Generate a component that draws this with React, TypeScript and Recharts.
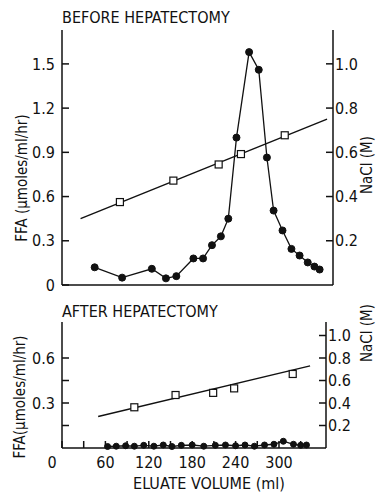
import React from "react";
import { ComposedChart, Line, Scatter, XAxis, YAxis } from "recharts";

// before hepatectomy: FFA (filled circles, left axis)
const beforeVolume = [44, 81, 121, 140, 154, 177, 190, 202, 214, 224, 235, 252, 265, 276, 285, 297, 309, 320, 331, 340, 347];
const beforeFfa = [0.12, 0.05, 0.11, 0.045, 0.06, 0.18, 0.18, 0.27, 0.33, 0.45, 1.0, 1.58, 1.46, 0.865, 0.505, 0.37, 0.245, 0.2, 0.153, 0.125, 0.105];
// NaCl (open squares, right axis) and its fitted line
const beforeNaclVolume = [78, 150, 211, 241, 300];
const beforeNacl = [0.375, 0.472, 0.545, 0.592, 0.677];
const beforeFitVolume = [25, 357];
const beforeFit = [0.3, 0.75];

// after hepatectomy
const afterVolume = [63, 75, 88, 100, 113, 127, 140, 152, 165, 180, 196, 212, 226, 240, 253, 266, 280, 293, 306, 320, 330, 338];
const afterFfa = [0.01, 0.012, 0.015, 0.012, 0.018, 0.012, 0.02, 0.01, 0.018, 0.02, 0.012, 0.018, 0.02, 0.015, 0.02, 0.012, 0.02, 0.025, 0.045, 0.025, 0.018, 0.02];
const afterNaclVolume = [100, 157, 209, 238, 319];
const afterNacl = [0.362, 0.471, 0.49, 0.53, 0.658];
const afterFitVolume = [50, 343];
const afterFit = [0.28, 0.73];

const volumeTicks = [30, 60, 90, 120, 150, 180, 210, 240, 270, 300, 330];
const beforeFfaTicks = [0, 0.3, 0.6, 0.9, 1.2, 1.5];
const afterFfaTicks = [0.15, 0.3, 0.45, 0.6];
const naclTicks = [0.2, 0.4, 0.6, 0.8, 1.0];

const FONT = "'Liberation Sans Narrow', 'DejaVu Sans Condensed', 'Roboto Condensed', sans-serif";
const INK = "#111";

const zip = (xs: number[], ys: number[]) => xs.map((x, i) => ({ x, y: ys[i] }));

const tickStyle = { fill: INK, fontSize: 16, fontFamily: FONT };
const axisLine = { stroke: INK, strokeWidth: 1.5 };

const Square = (props: any) => {
  const { cx, cy } = props;
  return <rect x={cx - 3.5} y={cy - 3.5} width={7} height={7} fill="#fff" stroke={INK} strokeWidth={1.2} />;
};

const VolumeTick = (props: any) => {
  const { x, y, payload } = props;
  if (payload.value % 60 !== 0) return null;
  return (
    <text x={payload.value === 0 ? x - 10 : x} y={y} dy="0.71em" textAnchor="middle" {...tickStyle}>
      {payload.value}
    </text>
  );
};

function Panel({
  width,
  height,
  top,
  xHeight,
  rightWidth,
  ffaDomain,
  ffaTicks,
  ffaFormat,
  naclDomain,
  ffa,
  nacl,
  fit,
  dotR,
  labelled,
}: any) {
  return (
    <ComposedChart width={width} height={height} margin={{ top, right: 0, left: 0, bottom: 0 }}>
      <XAxis
        dataKey="x"
        type="number"
        domain={[0, 365]}
        ticks={labelled ? [0, ...volumeTicks] : volumeTicks}
        tick={labelled ? <VolumeTick /> : false}
        tickSize={-7}
        tickMargin={16}
        height={xHeight}
        axisLine={axisLine}
        tickLine={axisLine}
        interval={0}
      />
      <XAxis xAxisId="top" orientation="top" type="number" domain={[0, 365]} height={0} tick={false} tickLine={false} axisLine={axisLine} />
      <YAxis
        type="number"
        domain={ffaDomain}
        ticks={ffaTicks}
        tickFormatter={ffaFormat}
        width={62}
        tickSize={-7}
        tickMargin={14}
        tick={tickStyle}
        axisLine={axisLine}
        tickLine={axisLine}
        interval={0}
      />
      <YAxis
        yAxisId="r"
        orientation="right"
        type="number"
        domain={naclDomain}
        ticks={naclTicks}
        tickFormatter={(v: number) => v.toFixed(1)}
        width={rightWidth}
        tickSize={-7}
        tickMargin={9}
        tick={tickStyle}
        axisLine={axisLine}
        tickLine={axisLine}
        interval={0}
      />
      <Line
        data={fit}
        dataKey="y"
        yAxisId="r"
        stroke={INK}
        strokeWidth={1.4}
        dot={false}
        isAnimationActive={false}
      />
      <Line
        data={ffa}
        dataKey="y"
        stroke={INK}
        strokeWidth={1.3}
        dot={{ r: dotR, fill: INK, stroke: INK, strokeWidth: 1 }}
        isAnimationActive={false}
      />
      <Scatter data={nacl} dataKey="y" yAxisId="r" shape={<Square />} isAnimationActive={false} />
    </ComposedChart>
  );
}

export default function App() {
  const textProps = { fill: INK, fontFamily: FONT };
  return (
    <div style={{ position: "absolute", left: 0, top: 0, width: 381, height: 492, background: "#fff" }}>
      <div style={{ position: "absolute", left: 0, top: 0 }}>
        <Panel
          width={381}
          height={300}
          top={30}
          xHeight={15}
          rightWidth={48}
          ffaDomain={[0, 1.73]}
          ffaTicks={beforeFfaTicks}
          ffaFormat={(v: number) => (v === 0 ? "0" : v.toFixed(1))}
          naclDomain={[0, 1.153]}
          ffa={zip(beforeVolume, beforeFfa)}
          nacl={zip(beforeNaclVolume, beforeNacl)}
          fit={zip(beforeFitVolume, beforeFit)}
          dotR={3.5}
          labelled={false}
        />
      </div>
      <div style={{ position: "absolute", left: 0, top: 300 }}>
        <Panel
          width={381}
          height={192}
          top={22}
          xHeight={44}
          rightWidth={55}
          ffaDomain={[0, 0.84]}
          ffaTicks={afterFfaTicks}
          ffaFormat={(v: number) => (v === 0.3 || v === 0.6 ? v.toFixed(1) : "")}
          naclDomain={[0, 1.12]}
          ffa={zip(afterVolume, afterFfa)}
          nacl={zip(afterNaclVolume, afterNacl)}
          fit={zip(afterFitVolume, afterFit)}
          dotR={3}
          labelled={true}
        />
      </div>
      <svg width={381} height={492} style={{ position: "absolute", left: 0, top: 0, pointerEvents: "none" }}>
        <text x={62} y={23} fontSize={16} {...textProps}>BEFORE HEPATECTOMY</text>
        <text x={22} y={178} fontSize={15} textAnchor="middle" dominantBaseline="central" transform="rotate(-90 22 178)" {...textProps}>
          FFA (µmoles/ml/hr)
        </text>
        <text x={367} y={165} fontSize={15} textAnchor="middle" dominantBaseline="central" transform="rotate(-90 367 165)" {...textProps}>
          NaCl (M)
        </text>
        <text x={62} y={317} fontSize={16} {...textProps}>AFTER HEPATECTOMY</text>
        <text x={20} y={397} fontSize={15} textAnchor="middle" dominantBaseline="central" transform="rotate(-90 20 397)" {...textProps}>
          FFA(µmoles/ml/hr)
        </text>
        <text x={367} y={333} fontSize={15} textAnchor="middle" dominantBaseline="central" transform="rotate(-90 367 333)" {...textProps}>
          NaCl (M)
        </text>
        <text x={209} y={489} fontSize={16} textAnchor="middle" {...textProps}>ELUATE VOLUME (ml)</text>
      </svg>
    </div>
  );
}
